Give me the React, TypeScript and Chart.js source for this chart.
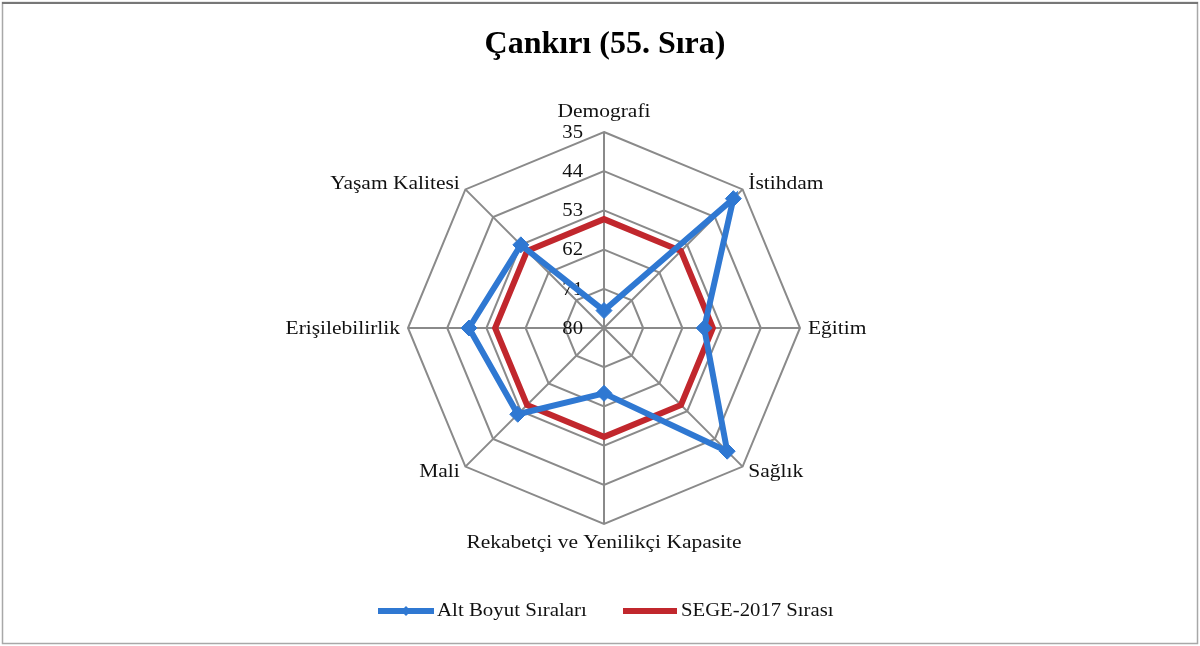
import React, { useEffect, useRef } from "react";
import { Chart, registerables } from "chart.js";

Chart.register(...registerables);

const categories = [
  "Demografi",
  "İstihdam",
  "Eğitim",
  "Sağlık",
  "Rekabetçi ve Yenilikçi Kapasite",
  "Mali",
  "Erişilebilirlik",
  "Yaşam Kalitesi",
];
const altBoyutSiralari = [76, 38, 57, 40, 65, 52, 49, 53];
const sege2017Sirasi = [55, 55, 55, 55, 55, 55, 55, 55];
const seriesNames = ["Alt Boyut Sıraları", "SEGE-2017 Sırası"];
const titleText = "Çankırı (55. Sıra)";
const scaleMin = 35;
const scaleMax = 80;
const scaleStep = 9;

const BLUE = "#2f78d2";
const RED = "#c1272d";
const GRID = "#8a8a8a";
const SERIF = "'Liberation Serif', 'Times New Roman', serif";

const drawDiamond = (ctx: CanvasRenderingContext2D, x: number, y: number, r: number) => {
  ctx.beginPath();
  ctx.moveTo(x, y - r);
  ctx.lineTo(x + r, y);
  ctx.lineTo(x, y + r);
  ctx.lineTo(x - r, y);
  ctx.closePath();
  ctx.fill();
};

// draw text stretched horizontally around its anchor x
const stretchText = (
  ctx: CanvasRenderingContext2D,
  text: string,
  x: number,
  y: number,
  sx: number
) => {
  ctx.save();
  ctx.translate(x, y);
  ctx.scale(sx, 1);
  ctx.fillText(text, 0, 0);
  ctx.restore();
};

const decorPlugin = {
  id: "decor",
  beforeDatasetsDraw(chart: any) {
    const scale = chart.scales.r;
    const ctx = chart.ctx as CanvasRenderingContext2D;
    ctx.save();
    ctx.font = `18px ${SERIF}`;
    ctx.fillStyle = "#111";
    ctx.textAlign = "right";
    ctx.textBaseline = "middle";
    scale.ticks.forEach((t: any) => {
      const d = scale.getDistanceFromCenterForValue(t.value);
      stretchText(ctx, String(t.value), scale.xCenter - 21, scale.yCenter - d + 1, 1.15);
    });
    ctx.restore();
  },
  afterDraw(chart: any) {
    const scale = chart.scales.r;
    const ctx = chart.ctx as CanvasRenderingContext2D;
    ctx.save();
    // point labels
    ctx.font = `19px ${SERIF}`;
    ctx.fillStyle = "#111";
    const R = scale.drawingArea;
    categories.forEach((label, i) => {
      const p = scale.getPointPosition(i, R + 8);
      const dx = p.x - scale.xCenter;
      const dy = p.y - scale.yCenter;
      ctx.textAlign = Math.abs(dx) < 1 ? "center" : dx > 0 ? "left" : "right";
      ctx.textBaseline = "middle";
      let y = p.y;
      if (Math.abs(dx) < 1) {
        y = dy < 0 ? p.y - 12 : p.y + 11;
      } else if (Math.abs(dy) < 1) {
        y = p.y + 1;
      }
      stretchText(ctx, label, p.x, y, 1.13);
    });

    // title
    ctx.font = `bold 32px ${SERIF}`;
    ctx.fillStyle = "#000";
    ctx.textAlign = "center";
    ctx.textBaseline = "middle";
    ctx.fillText(titleText, 605, 45);

    // legend
    const ly = 611;
    ctx.lineWidth = 6;
    ctx.lineCap = "butt";
    ctx.strokeStyle = BLUE;
    ctx.beginPath();
    ctx.moveTo(378, ly);
    ctx.lineTo(434, ly);
    ctx.stroke();
    ctx.fillStyle = BLUE;
    drawDiamond(ctx, 406, ly, 5);
    ctx.strokeStyle = RED;
    ctx.beginPath();
    ctx.moveTo(623, ly);
    ctx.lineTo(677, ly);
    ctx.stroke();
    ctx.font = `19px ${SERIF}`;
    ctx.fillStyle = "#111";
    ctx.textAlign = "left";
    ctx.textBaseline = "middle";
    stretchText(ctx, seriesNames[0], 437, ly, 1.1);
    stretchText(ctx, seriesNames[1], 681, ly, 1.09);

    // frame
    ctx.strokeStyle = "#a8a8a8";
    ctx.lineWidth = 1.5;
    ctx.strokeRect(2.5, 2.5, 1195, 641);
    ctx.strokeStyle = "#777";
    ctx.lineWidth = 2;
    ctx.beginPath();
    ctx.moveTo(2, 3);
    ctx.lineTo(1198, 3);
    ctx.stroke();
    ctx.restore();
  },
};

export default function App() {
  const canvasRef = useRef<HTMLCanvasElement | null>(null);

  useEffect(() => {
    const canvas = canvasRef.current;
    if (!canvas) return;
    const chart = new Chart(canvas, {
      type: "radar",
      data: {
        labels: categories,
        datasets: [
          {
            label: seriesNames[0],
            data: altBoyutSiralari,
            borderColor: BLUE,
            backgroundColor: BLUE,
            borderWidth: 6,
            fill: false,
            pointStyle: "rectRot",
            pointRadius: 8,
            pointBackgroundColor: BLUE,
            pointBorderColor: BLUE,
            pointBorderWidth: 1,
            tension: 0,
          },
          {
            label: seriesNames[1],
            data: sege2017Sirasi,
            borderColor: RED,
            backgroundColor: RED,
            borderWidth: 6,
            fill: false,
            pointRadius: 0,
            tension: 0,
          },
        ],
      },
      options: {
        responsive: false,
        animation: false,
        devicePixelRatio: 1,
        layout: { padding: { left: 408, right: 400, top: 132, bottom: 122 } },
        plugins: {
          legend: { display: false },
          title: { display: false },
          tooltip: { enabled: false },
        },
        scales: {
          r: {
            min: scaleMin,
            max: scaleMax,
            reverse: true,
            ticks: { display: false, stepSize: scaleStep, reverse: true } as any,
            pointLabels: { display: false },
            grid: { color: GRID, lineWidth: 2 },
            angleLines: { color: GRID, lineWidth: 2 },
          },
        },
      },
      plugins: [decorPlugin],
    });
    return () => chart.destroy();
  }, []);

  return (
    <div style={{ position: "fixed", left: 0, top: 0, width: 1200, height: 646, background: "#fff" }}>
      <canvas ref={canvasRef} width={1200} height={646} style={{ display: "block" }} />
    </div>
  );
}
